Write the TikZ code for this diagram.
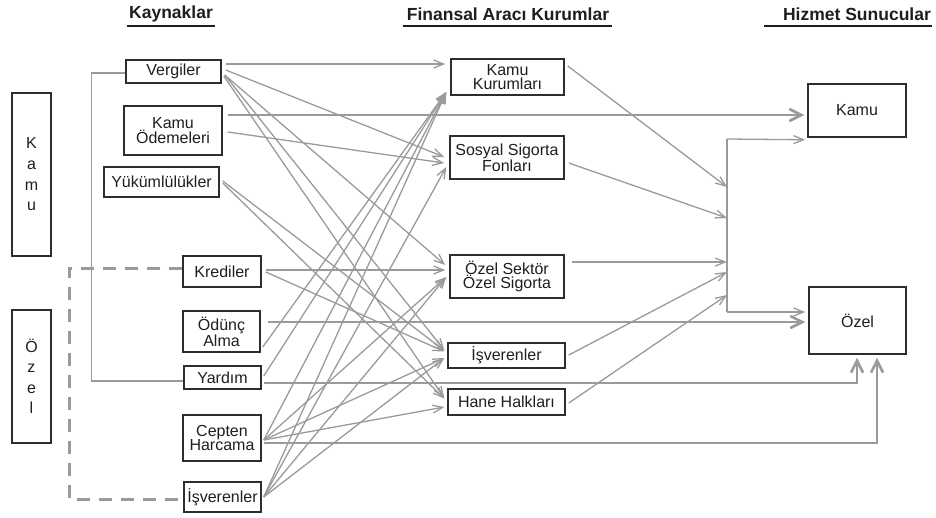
\documentclass[tikz,border=0pt]{standalone}
\usepackage{fontspec}
\setmainfont{Liberation Sans}
\usetikzlibrary{arrows.meta,calc}
\definecolor{linegray}{HTML}{9A9A9A}
\definecolor{boxline}{HTML}{2E2E2E}
\definecolor{ink}{HTML}{1E1E1E}

\begin{document}
\begin{tikzpicture}[x=1pt,y=-1pt,
  box/.style={draw=boxline,line width=1.5pt,inner sep=0pt,align=center,text=ink,
    font=\fontsize{16}{14.5}\selectfont},
  hdr/.style={font=\bfseries\fontsize{17.5}{20}\selectfont,text=ink,inner sep=0pt},
  uline/.style={draw=ink,line width=1.5pt},
  flow/.style={draw=linegray,line width=1.3pt,-{Straight Barb[length=10pt,width=8pt]}},
  bigflow/.style={draw=linegray,line width=2.6pt,-{Straight Barb[length=12pt,width=12pt]}},
  link/.style={draw=linegray,line width=1.3pt},
  dashbr/.style={draw=linegray,line width=3pt,dash pattern=on 13pt off 9pt},
]
\useasboundingbox (0,0) rectangle (936,517);

% column headings
\node[hdr] (h1) at (171,14) {Kaynaklar};
\node[hdr] (h2) at (508,14) {Finansal Aracı Kurumlar};
\node[hdr] (h3) at (857,14) {Hizmet Sunucular};
\draw[uline] ($(h1)+(-44,12)$) -- ($(h1)+(44,12)$);
\draw[uline] ($(h2)+(-105,12)$) -- ($(h2)+(104,12)$);
\draw[uline] ($(h3)+(-93,12)$) -- ($(h3)+(75,12)$);

% sector boxes on the left
\node[box,minimum width=39pt,minimum height=163pt,font=\fontsize{16}{20.7}\selectfont]
  (lkamu) at (31.5,174.5) {K\\a\\m\\u};
\node[box,minimum width=39pt,minimum height=133pt,font=\fontsize{16}{20.5}\selectfont]
  (lozel) at (31.5,376.5) {Ö\\z\\e\\l};

% sources
\node[box,minimum width=95pt,minimum height=23pt] (verg) at (173.5,71.5) {Vergiler};
\node[box,minimum width=98pt,minimum height=49pt] (kod) at (173,130.5) {Kamu\\Ödemeleri};
\node[box,minimum width=115pt,minimum height=30pt] (yuk) at (161.5,182) {Yükümlülükler};
\node[box,minimum width=78pt,minimum height=31pt] (kred) at (222,271.5) {Krediler};
\node[box,minimum width=77pt,minimum height=41pt] (odun) at (221.5,331.5) {Ödünç\\Alma};
\node[box,minimum width=77pt,minimum height=23pt] (yard) at (222.5,377.5) {Yardım};
\node[box,minimum width=78pt,minimum height=46pt] (cep) at (222,438) {Cepten\\Harcama};
\node[box,minimum width=77pt,minimum height=30pt] (isvs) at (222.5,497) {İşverenler};

% financial intermediaries
\node[box,minimum width=113pt,minimum height=36pt] (kk) at (507.5,77) {Kamu\\Kurumları};
\node[box,minimum width=114pt,minimum height=43pt,font=\fontsize{16}{13}\selectfont]
  (sos) at (507,157.5) {Sosyal Sigorta\\Fonları};
\node[box,minimum width=114pt,minimum height=43pt] (ozs) at (507,276.5) {Özel Sektör\\Özel Sigorta};
\node[box,minimum width=117pt,minimum height=25pt] (isvm) at (506.5,355.5) {İşverenler};
\node[box,minimum width=117pt,minimum height=26pt] (hh) at (506.5,402) {Hane Halkları};

% service providers
\node[box,minimum width=98pt,minimum height=53pt] (kamur) at (857,110.5) {Kamu};
\node[box,minimum width=97pt,minimum height=67pt] (ozelr) at (857.5,320.5) {Özel};

% brackets grouping the sources
\draw[link] ($(verg.west)+(0,1.5)$) -- ++(-34,0) |- ($(yard.west)+(0,3.5)$);
\draw[dashbr] ($(kred.west)+(0,-3.5)$) -- ++(-113,0) |- ($(isvs.west)+(0,2)$);

% Vergiler
\draw[flow] ($(verg.east)+(4,-7.5)$) -- ($(kk.west)+(-5,-13)$);
\draw[flow] ($(verg.east)+(4,-1.5)$) -- ($(sos.west)+(-5,-0.5)$);
\draw[flow] ($(verg.east)+(3,3.5)$) -- ($(ozs.west)+(-4,-11.5)$);
\draw[flow] ($(verg.east)+(3,3.5)$) -- ($(isvm.west)+(-3,-5.5)$);
\draw[flow] ($(verg.east)+(2,4.5)$) -- ($(hh.west)+(-3,-4)$);
% Kamu Ödemeleri
\draw[bigflow] ($(kod.east)+(5,-15.5)$) -- ($(kamur.west)+(-3,4.5)$);
\draw[flow] ($(kod.east)+(5,1.5)$) -- ($(sos.west)+(-5,5.5)$);
% Yükümlülükler
\draw[flow] ($(yuk.east)+(3,-1)$) -- ($(isvm.west)+(-3,-5)$);
\draw[flow] ($(yuk.east)+(3,1)$) -- ($(hh.west)+(-3,-3.5)$);
% Krediler
\draw[flow] ($(kred.east)+(4,-1.5)$) -- ($(ozs.west)+(-4,-6.5)$);
\draw[flow] ($(kred.east)+(4,0.5)$) -- ($(isvm.west)+(-3,-4)$);
% Ödünç Alma
\draw[bigflow] ($(odun.east)+(7,-9.5)$) -- ($(ozelr.west)+(-3,1.5)$);
\draw[flow] ($(odun.east)+(2,15.5)$) -- ($(kk.west)+(-4,15)$);
% Yardım
\draw[flow] ($(yard.east)+(2,-1.5)$) -- ($(kk.west)+(-4,15)$);
\draw[bigflow] ($(yard.east)+(2,5.5)$) -| ($(ozelr.south)+(-0.5,3)$);
% Cepten Harcama
\draw[flow] ($(cep.east)+(2,2)$) -- ($(kk.west)+(-4,15)$);
\draw[flow] ($(cep.east)+(2,2)$) -- ($(ozs.west)+(-3,0.5)$);
\draw[flow] ($(cep.east)+(2,2)$) -- ($(isvm.west)+(-3,2.5)$);
\draw[flow] ($(cep.east)+(2,2)$) -- ($(hh.west)+(-3,5)$);
\draw[bigflow] ($(cep.east)+(2,5)$) -| ($(ozelr.south)+(19.5,3)$);
% İşverenler
\draw[flow] ($(isvs.east)+(2,0)$) -- ($(kk.west)+(-4,15)$);
\draw[flow] ($(isvs.east)+(2,0)$) -- ($(sos.west)+(-3,9.5)$);
\draw[flow] ($(isvs.east)+(2,0)$) -- ($(ozs.west)+(-3,0.5)$);
\draw[flow] ($(isvs.east)+(2,0)$) -- ($(isvm.west)+(-3,2.5)$);

% collector towards the providers
\coordinate (ctop) at (727,139);
\coordinate (cbot) at (727,312);
\coordinate (j1) at (727,187);
\coordinate (j2) at (727,218);
\coordinate (j3) at (727,262);
\coordinate (j4) at (727,272);
\coordinate (j5) at (727,295);
\draw[flow] ($(kk.east)+(3,-11)$) -- (j1);
\draw[flow] ($(sos.east)+(4,5.5)$) -- (j2);
\draw[flow] ($(ozs.east)+(7,-14.5)$) -- (j3);
\draw[flow] ($(isvm.east)+(3,-0.5)$) -- (j4);
\draw[flow] ($(hh.east)+(3,1)$) -- (j5);
\draw[link] (ctop) -- (cbot);
\draw[flow] (ctop) -- ($(kamur.south west)+(-2,2)$);
\draw[flow] (cbot) -- ($(ozelr.west)+(-3,-8.5)$);
\end{tikzpicture}
\end{document}
